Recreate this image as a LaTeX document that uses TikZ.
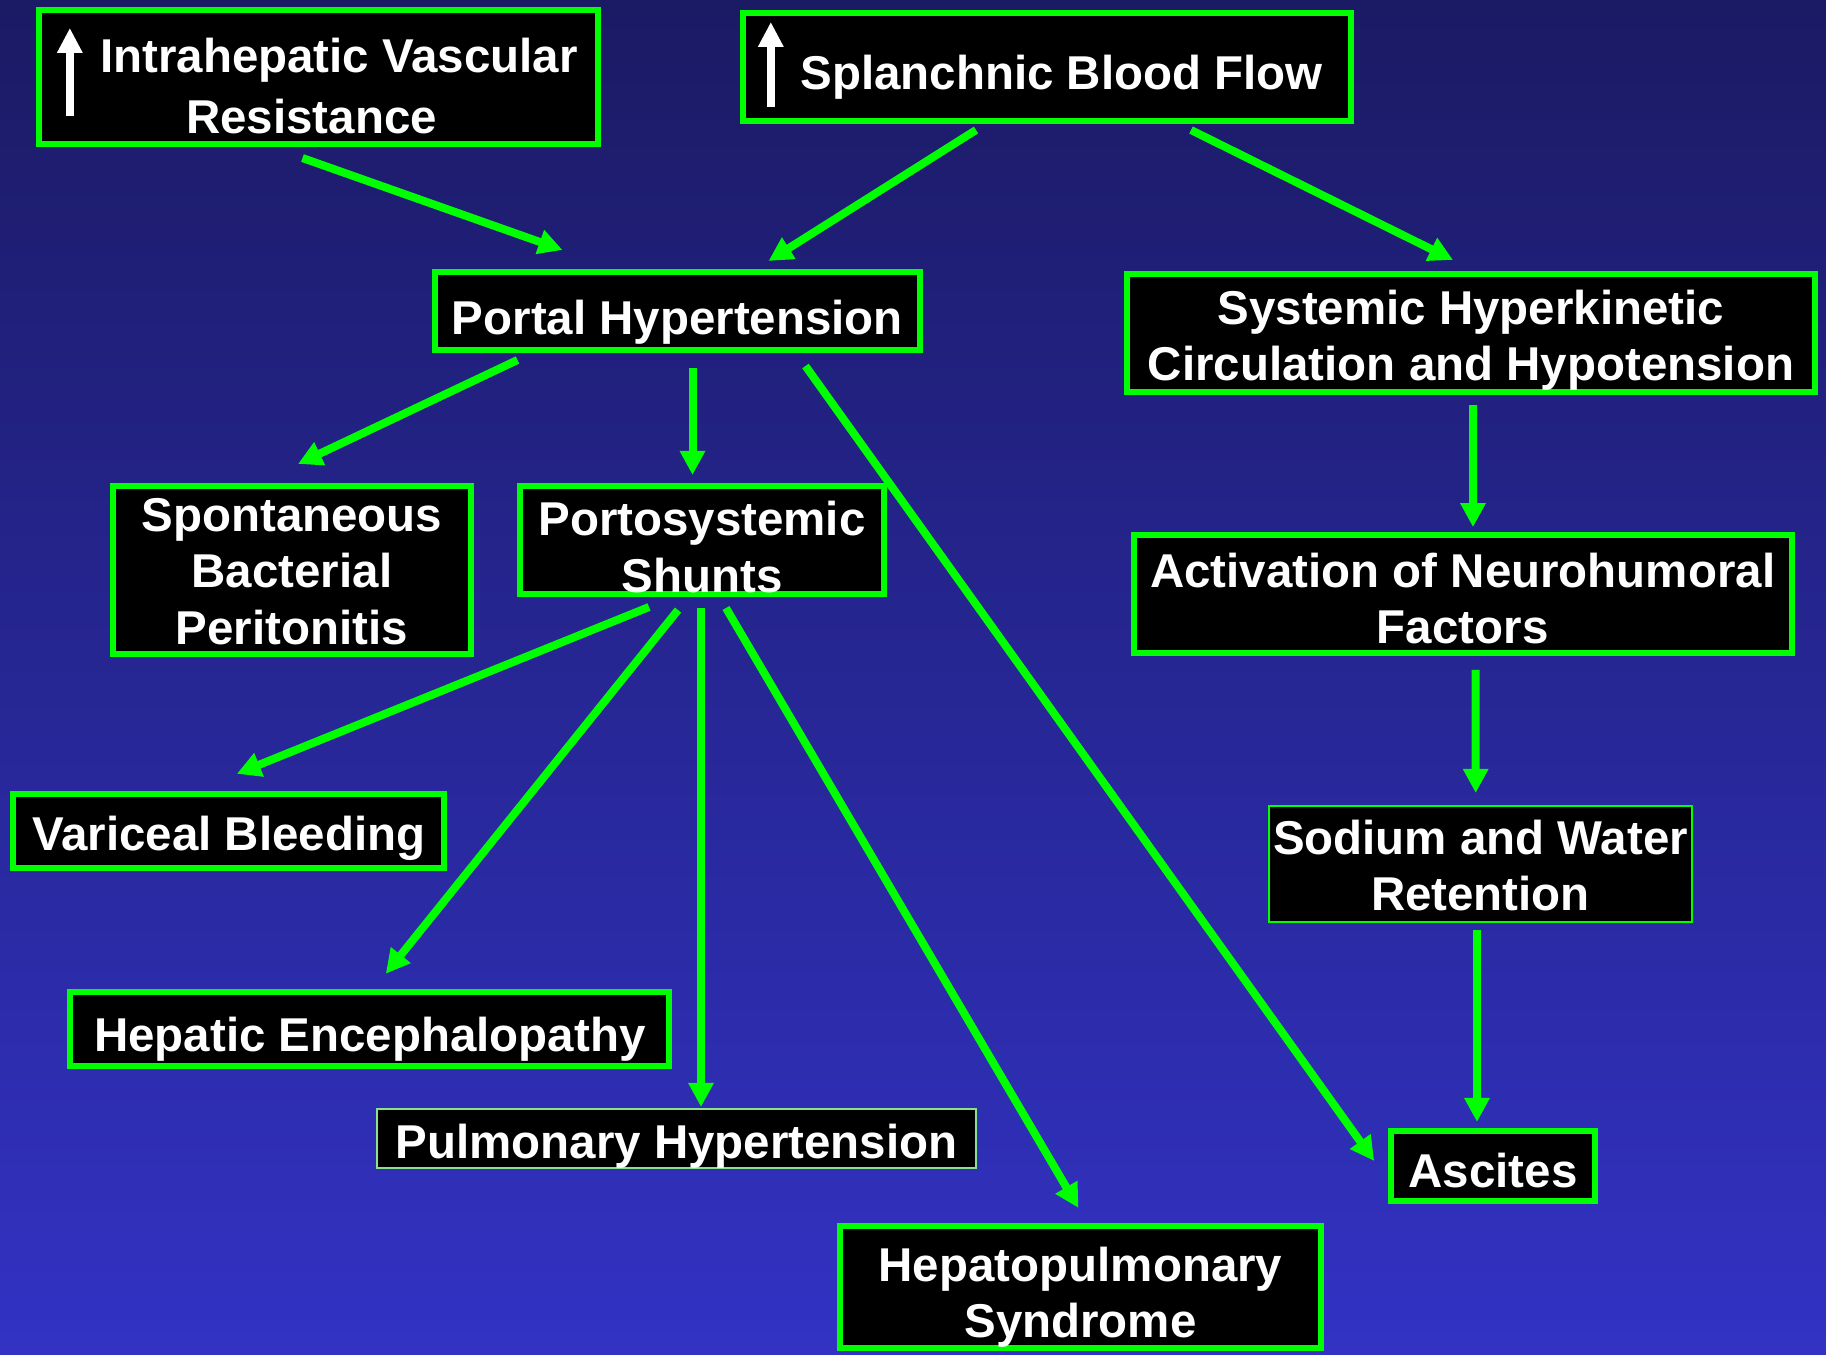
\documentclass[tikz,border=0pt]{standalone}
\usepackage{fontspec}
\setmainfont{Liberation Sans}
\usetikzlibrary{arrows.meta}
\definecolor{slidetop}{RGB}{27,26,100}
\definecolor{slidebottom}{RGB}{50,50,196}
\definecolor{neon}{RGB}{0,255,0}
\definecolor{palegreen}{RGB}{140,225,140}

\begin{document}
\begin{tikzpicture}[
    x=0.01cm,y=-0.01cm,
    box/.style={draw=neon,line width=0.06cm,fill=black,text=white,
      font=\bfseries\fontsize{13.5}{16}\selectfont,align=center,
      inner sep=0pt,outer sep=0pt,text depth=0pt},
    thin box/.style={box,line width=0.02cm},
    link/.style={neon,line width=0.08cm,-{Triangle[length=0.24cm,width=0.24cm]}},
    riser/.style={white,line width=0.08cm,-{Triangle[length=0.25cm,width=0.24cm]}}
  ]
    % Slide background, dark navy at the top fading to blue.
    \shade[top color=slidetop,bottom color=slidebottom] (0,0) rectangle (1826,1355);
    \useasboundingbox (0,0) rectangle (1826,1355);

    % The two causes along the top.
    \node[box,minimum width=5.59cm,minimum height=1.34cm,text height=1.13cm] (ihr) at (318.5,77)
      {\hspace*{0.41cm}Intrahepatic Vascular\\[1.4pt]Resistance\hspace*{0.14cm}};
    \node[box,minimum width=6.08cm,minimum height=1.08cm,text height=0.44cm] (sbf) at (1047,67)
      {\hspace*{0.29cm}Splanchnic Blood Flow};

    % Increased (up arrows) drawn inside the two top boxes.
    \draw[riser] ([shift={(31,-28)}]ihr.south west) -- ([shift={(31,18)}]ihr.north west);
    \draw[riser] ([shift={(28,-14)}]sbf.south west) -- ([shift={(28,9)}]sbf.north west);

    % Second row.
    \node[box,minimum width=4.85cm,minimum height=0.78cm,text height=0.46cm] (pht) at (677.5,311)
      {Portal Hypertension};
    \node[box,minimum width=6.88cm,minimum height=1.18cm,text height=0.955cm] (shc) at (1471,333)
      {Systemic Hyperkinetic\\Circulation and Hypotension};

    % Third row.
    \node[box,minimum width=3.58cm,minimum height=1.68cm,text height=1.48cm] (sbp) at (292,570)
      {Spontaneous\\Bacterial\\Peritonitis};
    \node[box,minimum width=3.64cm,minimum height=1.08cm,text height=1.04cm] (pss) at (702,540)
      {Portosystemic\\Shunts};
    \node[box,minimum width=6.575cm,minimum height=1.176cm,text height=0.99cm] (anf) at (1462.7,594)
      {Activation of Neurohumoral\\Factors};

    % Complications of the shunts and the renal branch.
    \node[box,minimum width=4.305cm,minimum height=0.743cm,text height=0.39cm] (vbl) at (228.8,831)
      {Variceal Bleeding};
    \node[thin box,minimum width=4.23cm,minimum height=1.16cm,text height=0.93cm] (swr) at (1480.5,864)
      {Sodium and Water\\Retention};
    \node[box,minimum width=5.985cm,minimum height=0.744cm,text height=0.44cm] (hen) at (369.8,1029)
      {Hepatic Encephalopathy};
    \node[thin box,draw=palegreen,minimum width=5.99cm,minimum height=0.59cm,text height=0.39cm] (pph)
      at (676.5,1138.5) {Pulmonary Hypertension};
    \node[box,minimum width=2.035cm,minimum height=0.70cm,text height=0.42cm] (asc) at (1493,1166) {Ascites};
    \node[box,minimum width=4.81cm,minimum height=1.22cm,text height=1.01cm] (hps) at (1080.5,1287)
      {Hepatopulmonary\\Syndrome};

    % Arrows from the causes.
    \draw[link] ([shift={(-16,14)}]ihr.south) -- ([shift={(-115,-22)}]pht.north);
    \draw[link] ([shift={(-71,9)}]sbf.south) -- ([shift={(91,-11)}]pht.north);
    \draw[link] ([shift={(144,9)}]sbf.south) -- ([shift={(-18,-14)}]shc.north);

    % Out of portal hypertension.
    \draw[link] ([shift={(-160,10)}]pht.south) -- ([shift={(6,-22)}]sbp.north);
    \draw[link] ([shift={(15,18)}]pht.south) -- ([shift={(-9.5,-11)}]pss.north);
    \draw[link] ([shift={(128,16)}]pht.south) -- ([shift={(-17,-5)}]asc.west);

    % Systemic chain down to ascites.
    \draw[link] ([shift={(2,13)}]shc.south) -- ([shift={(10.3,-8)}]anf.north);
    \draw[link] ([shift={(13,17)}]anf.south) -- ([shift={(-4.8,-13)}]swr.north);
    \draw[link] ([shift={(-3.5,8)}]swr.south) -- ([shift={(-16,-9)}]asc.north);

    % Fan out of the shunts.
    \draw[link] ([shift={(-53,13)}]pss.south) -- ([shift={(8,-20)}]vbl.north);
    \draw[link] ([shift={(-24,16)}]pss.south) -- ([shift={(16,-18)}]hen.north);
    \draw[link] ([shift={(-1,14)}]pss.south) -- ([shift={(24.5,-2)}]pph.north);
    \draw[link] ([shift={(24,14)}]pss.south) -- ([shift={(-2,-18)}]hps.north);
  \end{tikzpicture}
\end{document}
